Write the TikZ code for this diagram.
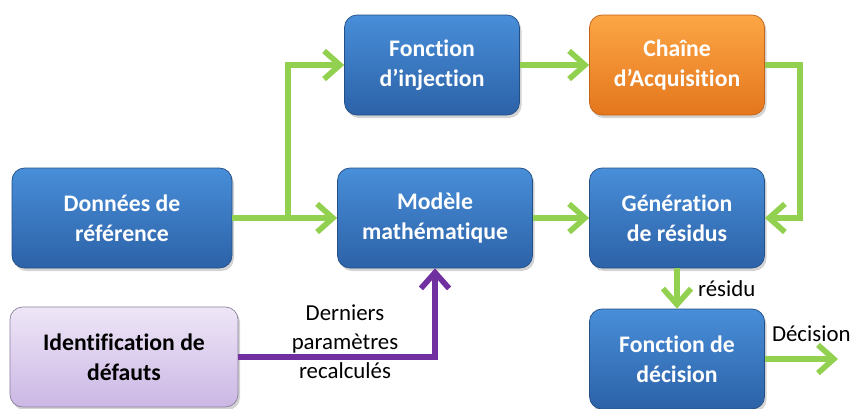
\documentclass[tikz,border=0pt]{standalone}
\usepackage{fontspec}
\setmainfont{Carlito}[Ligatures=NoCommon]
\usepackage{xcolor}
\usepackage{tikz}
\usetikzlibrary{shapes, arrows.meta, positioning, shadows}

\definecolor{boxblueA}{RGB}{72,142,216}
\definecolor{boxblueB}{RGB}{44,98,168}
\definecolor{boxorangeA}{RGB}{252,166,70}
\definecolor{boxorangeB}{RGB}{228,118,28}
\definecolor{boxlilacA}{RGB}{238,230,247}
\definecolor{boxlilacB}{RGB}{203,183,228}
\definecolor{flowgreen}{RGB}{146,208,80}
\definecolor{flowpurple}{RGB}{112,48,160}

\tikzset{
  bloc/.style={rectangle, rounded corners=0.25cm, minimum height=2cm, align=center,
    font=\fontsize{13.5}{17}\selectfont\bfseries, text=white,
    drop shadow={opacity=0.35, shadow xshift=0.04cm, shadow yshift=-0.06cm}},
  bleu/.style={bloc, draw=boxblueB!80!black, top color=boxblueA, bottom color=boxblueB},
  orange/.style={bloc, draw=boxorangeB!85!black, top color=boxorangeA, bottom color=boxorangeB},
  lilas/.style={bloc, draw=boxlilacB!70!black, top color=boxlilacA, bottom color=boxlilacB, text=black},
  fleche/.style={line width=3.2pt, flowgreen, -{Straight Barb[length=9pt, width=16pt, line width=3.2pt]}},
  retour/.style={line width=3.2pt, flowpurple, -{Straight Barb[length=9pt, width=16pt, line width=3.2pt]}},
  legende/.style={font=\fontsize{13}{16.5}\selectfont, text=black, align=center}
}

\begin{document}
\begin{tikzpicture}
  \useasboundingbox (0,0) rectangle (17.02,8.16);
  % blocs
  \node[bleu, minimum width=4.4cm] (donnees) at (2.44,3.80) {Données de\\référence};
  \node[bleu, minimum width=3.5cm] (injection) at (8.64,6.86) {Fonction\\d’injection};
  \node[orange, minimum width=3.5cm] (acquisition) at (13.54,6.86) {Chaîne\\d’Acquisition};
  \node[bleu, minimum width=3.9cm] (modele) at (8.70,3.80) {Modèle\\mathématique};
  \node[bleu, minimum width=3.5cm] (generation) at (13.54,3.80) {Génération\\de résidus};
  \node[lilas, minimum width=4.56cm] (identif) at (2.48,1.02) {Identification de\\défauts};
  \node[bleu, minimum width=3.5cm] (decision) at (13.54,0.98) {Fonction de\\décision};
  % points de passage
  \coordinate (embr) at (5.76,3.80);
  \coordinate (sortie) at (16.76,0.98);
  % liaisons vertes
  \draw[fleche] (donnees.east) -- (embr) |- (injection.west);
  \draw[fleche] (embr) -- (modele.west);
  \draw[fleche] (injection) -- (acquisition);
  \draw[fleche] (acquisition.east) -- ++(0.7,0) |- (generation.east);
  \draw[fleche] (modele) -- (generation);
  \draw[fleche] (generation) -- (decision)
    node[midway, right, legende, xshift=0.25cm] (residu) {résidu};
  \draw[fleche] (decision.east) -- (sortie);
  \node[legende, anchor=south west] (sortielbl) at ([xshift=0.02cm, yshift=0.22cm]decision.east) {Décision};
  % retour violet
  \draw[retour] (identif.east) -| (modele.south);
  \node[legende] (params) at (6.9,1.32) {Derniers\\paramètres\\recalculés};
\end{tikzpicture}
\end{document}
